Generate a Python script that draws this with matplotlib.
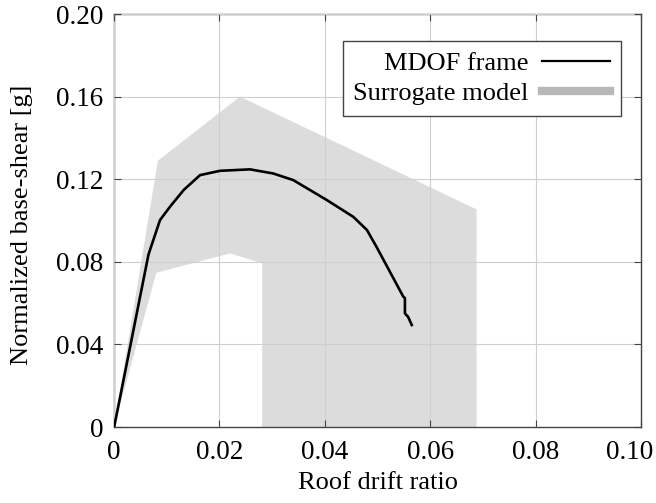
import matplotlib.pyplot as plt
import matplotlib.transforms as mtransforms
from matplotlib.lines import Line2D

# MDOF frame pushover curve
drift = [0.0, 0.0065, 0.0068, 0.0087, 0.0106, 0.0132, 0.0163, 0.0201, 0.0258,
         0.0302, 0.034, 0.0404, 0.0454, 0.048, 0.0498, 0.0549, 0.0552, 0.0552,
         0.0558, 0.0565]
shear = [0.0, 0.0833, 0.0857, 0.1002, 0.1067, 0.1148, 0.122, 0.1241, 0.1248,
         0.1228, 0.1196, 0.1099, 0.1018, 0.0954, 0.0873, 0.0631, 0.0625, 0.055,
         0.0534, 0.0494]

# surrogate model band (outline of the shaded region)
band_x = [0.0, 0.0083, 0.0239, 0.0688, 0.0688, 0.0281, 0.0281, 0.022, 0.008, 0.0]
band_y = [0.0, 0.129, 0.160, 0.1054, 0.0, 0.0, 0.0793, 0.0841, 0.0747, 0.0]

xticks = [0, 0.02, 0.04, 0.06, 0.08, 0.10]
xticklabels = ['0', '0.02', '0.04', '0.06', '0.08', '0.10']
yticks = [0, 0.04, 0.08, 0.12, 0.16, 0.20]
yticklabels = ['0', '0.04', '0.08', '0.12', '0.16', '0.20']

plt.rcParams['font.family'] = ['Liberation Serif', 'DejaVu Serif']

fig = plt.figure(figsize=(6.56, 5.03), dpi=100)
ax = fig.add_axes([0.174, 0.151, 0.803, 0.821])

ax.fill(band_x, band_y, color='#dcdcdc', lw=0, zorder=1)
ax.plot(drift, shear, color='black', lw=1.9, zorder=3)

ax.set_xlim(0, 0.1)
ax.set_ylim(0, 0.2)
ax.set_xticks(xticks)
ax.set_xticklabels(xticklabels)
ax.set_yticks(yticks)
ax.set_yticklabels(yticklabels)
ax.tick_params(direction='in', top=True, right=True, labelsize=19.5, length=5,
               color='#444444', pad=8)
ax.tick_params(axis='x', pad=9)
ax.set_axisbelow(False)
ax.grid(True, color='#cfcfcf', lw=0.8, zorder=2)
for s in ax.spines.values():
    s.set_color('#444444')
    s.set_linewidth(1)

# last x label is nudged left so it stays inside the figure
last = ax.get_xticklabels()[-1]
last.set_transform(last.get_transform() +
                   mtransforms.ScaledTranslation(-11 / 100, 0, fig.dpi_scale_trans))

ax.set_xlabel('Roof drift ratio', fontsize=19)
ax.set_ylabel('Normalized base-shear [g]', fontsize=19)
ax.xaxis.set_label_coords(0.5, -0.108)
ax.yaxis.set_label_coords(-0.154, 0.49)

handles = [Line2D([], [], color='black', lw=1.6),
           Line2D([], [], color='#b8b8b8', lw=6)]
leg = ax.legend(handles, ['MDOF frame', 'Surrogate model'], loc='upper right',
                bbox_to_anchor=(0.962, 0.935), fontsize=19, markerfirst=False,
                fancybox=False, handlelength=2.6, borderpad=0.4, labelspacing=0.25,
                handletextpad=0.5, borderaxespad=0)
leg.get_frame().set_edgecolor('#444444')
leg.get_frame().set_linewidth(1)
leg.get_frame().set_alpha(1)

fig.savefig('out.png', dpi=100)
